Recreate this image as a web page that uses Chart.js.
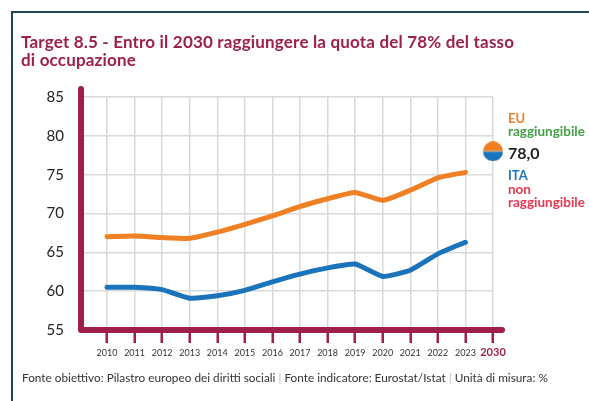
<!DOCTYPE html>
<html lang="it">
<head>
<meta charset="utf-8">
<title>Target 8.5 - tasso di occupazione</title>
<script src="https://cdn.jsdelivr.net/npm/chart.js@4.4.0/dist/chart.umd.min.js"></script>
<style>
  html, body { margin: 0; padding: 0; background: #fff; }
  #wrap { position: relative; width: 589px; height: 401px; overflow: hidden; }
  #frame { position: absolute; left: 11px; top: 11px; right: -10px; bottom: -10px;
           border-top: 2px solid #1d4752; border-left: 2px solid #1d4752; }
  #chart { position: absolute; left: 0; top: 0; }
  #title { position: absolute; left: 21px; top: 33px; margin: 0; letter-spacing: 0.18px;
           font: bold 17px/18px Lato, sans-serif; color: #9e1f4b; }
  #note { position: absolute; left: 22px; top: 371px; white-space: nowrap;
          font: 11.8px/13px Lato, sans-serif; color: #333; }
  #note span { color: #bbb; }
</style>
</head>
<body>
<div id="wrap">
  <div id="frame"></div>
  <canvas id="chart" width="589" height="401"></canvas>
  <h1 id="title">Target 8.5 - Entro il 2030 raggiungere la quota del 78% del tasso<br>di occupazione</h1>
  <div id="note">Fonte obiettivo: Pilastro europeo dei diritti sociali <span>|</span> Fonte indicatore: Eurostat/Istat <span>|</span> Unità di misura: %</div>
</div>
<script>
(function () {
  var years = ["2010", "2011", "2012", "2013", "2014", "2015", "2016", "2017",
               "2018", "2019", "2020", "2021", "2022", "2023", "2030"];
  var euRate = [67.0, 67.1, 66.9, 66.8, 67.6, 68.6, 69.7, 70.9, 71.9, 72.7, 71.7, 73.0, 74.6, 75.3];
  var itaRate = [60.5, 60.5, 60.2, 59.1, 59.4, 60.1, 61.2, 62.2, 63.0, 63.5, 61.9, 62.7, 64.8, 66.3];
  var target2030 = 78.0;
  var yTicks = [55, 60, 65, 70, 75, 80, 85];

  var crimson = "#9e1f4b";
  var orange = "#f17f24";
  var blue = "#1a74bb";
  var green = "#43a047";
  var red = "#e8374f";

  function points(values) {
    return values.map(function (v, i) { return { x: i, y: v }; });
  }

  // half orange / half blue marker for the 2030 target
  function halfDot(r) {
    var c = document.createElement("canvas");
    c.width = c.height = r * 2;
    var g = c.getContext("2d");
    g.fillStyle = orange;
    g.beginPath(); g.arc(r, r, r, Math.PI, 0); g.fill();
    g.fillStyle = blue;
    g.beginPath(); g.arc(r, r, r, 0, Math.PI); g.fill();
    g.fillStyle = "rgba(255,255,255,0.5)";
    g.fillRect(0, r - 0.5, r * 2, 1);
    return c;
  }

  // thick axis lines with rounded ends
  var axisLines = {
    id: "axisLines",
    beforeDatasetsDraw: function (chart) {
      var a = chart.chartArea, ctx = chart.ctx;
      ctx.save();
      ctx.strokeStyle = crimson;
      ctx.lineWidth = 6;
      ctx.lineCap = "round";
      ctx.lineJoin = "round";
      ctx.beginPath();
      ctx.moveTo(a.left, a.top - 8);
      ctx.lineTo(a.left, a.bottom);
      ctx.lineTo(a.right + 9, a.bottom);
      ctx.stroke();
      ctx.restore();
    }
  };

  // labels next to the target marker
  var targetNotes = {
    id: "targetNotes",
    afterDatasetsDraw: function (chart) {
      var pt = chart.getDatasetMeta(2).data[0];
      if (!pt) return;
      var ctx = chart.ctx, x = pt.x + 15, y = pt.y;
      var lines = [
        ["EU", orange, "bold 13px Lato", -28.5],
        ["raggiungibile", green, "bold 13.5px Lato", -15.5],
        [target2030.toFixed(1).replace(".", ","), "#222", "bold 16px Lato", 7.5],
        ["ITA", blue, "bold 13px Lato", 28.5],
        ["non", red, "bold 13.5px Lato", 42.5],
        ["raggiungibile", red, "bold 13.5px Lato", 55.5]
      ];
      ctx.save();
      ctx.textAlign = "left";
      ctx.textBaseline = "alphabetic";
      lines.forEach(function (l) {
        ctx.fillStyle = l[1];
        ctx.font = l[2];
        ctx.fillText(l[0], x, y + l[3]);
      });
      ctx.restore();
    }
  };

  var last = years.length - 1;

  new Chart(document.getElementById("chart"), {
    type: "line",
    data: {
      datasets: [
        { label: "EU", data: points(euRate), borderColor: orange, backgroundColor: orange,
          borderWidth: 5, pointRadius: 0, tension: 0.15,
          borderCapStyle: "round", borderJoinStyle: "round" },
        { label: "ITA", data: points(itaRate), borderColor: blue, backgroundColor: blue,
          borderWidth: 5, pointRadius: 0, tension: 0.15,
          borderCapStyle: "round", borderJoinStyle: "round" },
        { label: "Target 2030", data: [{ x: last, y: target2030 }], showLine: false,
          pointStyle: halfDot(10), pointRadius: 10, clip: false }
      ]
    },
    options: {
      responsive: false,
      animation: false,
      devicePixelRatio: 1,
      layout: { padding: { top: 97, right: 96, left: 0, bottom: 0 } },
      plugins: { legend: { display: false }, tooltip: { enabled: false } },
      scales: {
        x: {
          type: "linear",
          min: -0.943,
          max: last,
          afterFit: function (s) { s.height = 71; },
          afterBuildTicks: function (s) {
            s.ticks = years.map(function (y, i) { return { value: i }; });
          },
          border: { display: false },
          grid: {
            color: "#d9d9d9", lineWidth: 1.5, borderDash: [8, 5],
            drawTicks: true, tickLength: 13, tickColor: crimson, tickWidth: 2.5, tickBorderDash: []
          },
          ticks: {
            autoSkip: false, maxRotation: 0, padding: 5,
            callback: function (v) { return years[v]; },
            color: function (c) { return c.index === last ? crimson : "#333"; },
            font: function (c) {
              return c.index === last
                ? { family: "Lato", size: 11, weight: "bold", lineHeight: 0.8 }
                : { family: "Lato", size: 9, lineHeight: 1.2 };
            }
          }
        },
        y: {
          min: 55,
          max: 85,
          afterFit: function (s) { s.width = 81; },
          afterBuildTicks: function (s) {
            s.ticks = yTicks.map(function (v) { return { value: v }; });
          },
          border: { display: false },
          grid: { color: "#d9d9d9", lineWidth: 1.5, borderDash: [8, 5], drawTicks: false },
          ticks: { padding: 17, color: "#222", font: { family: "Lato", size: 15 } }
        }
      }
    },
    plugins: [axisLines, targetNotes]
  });
})();
</script>
</body>
</html>
